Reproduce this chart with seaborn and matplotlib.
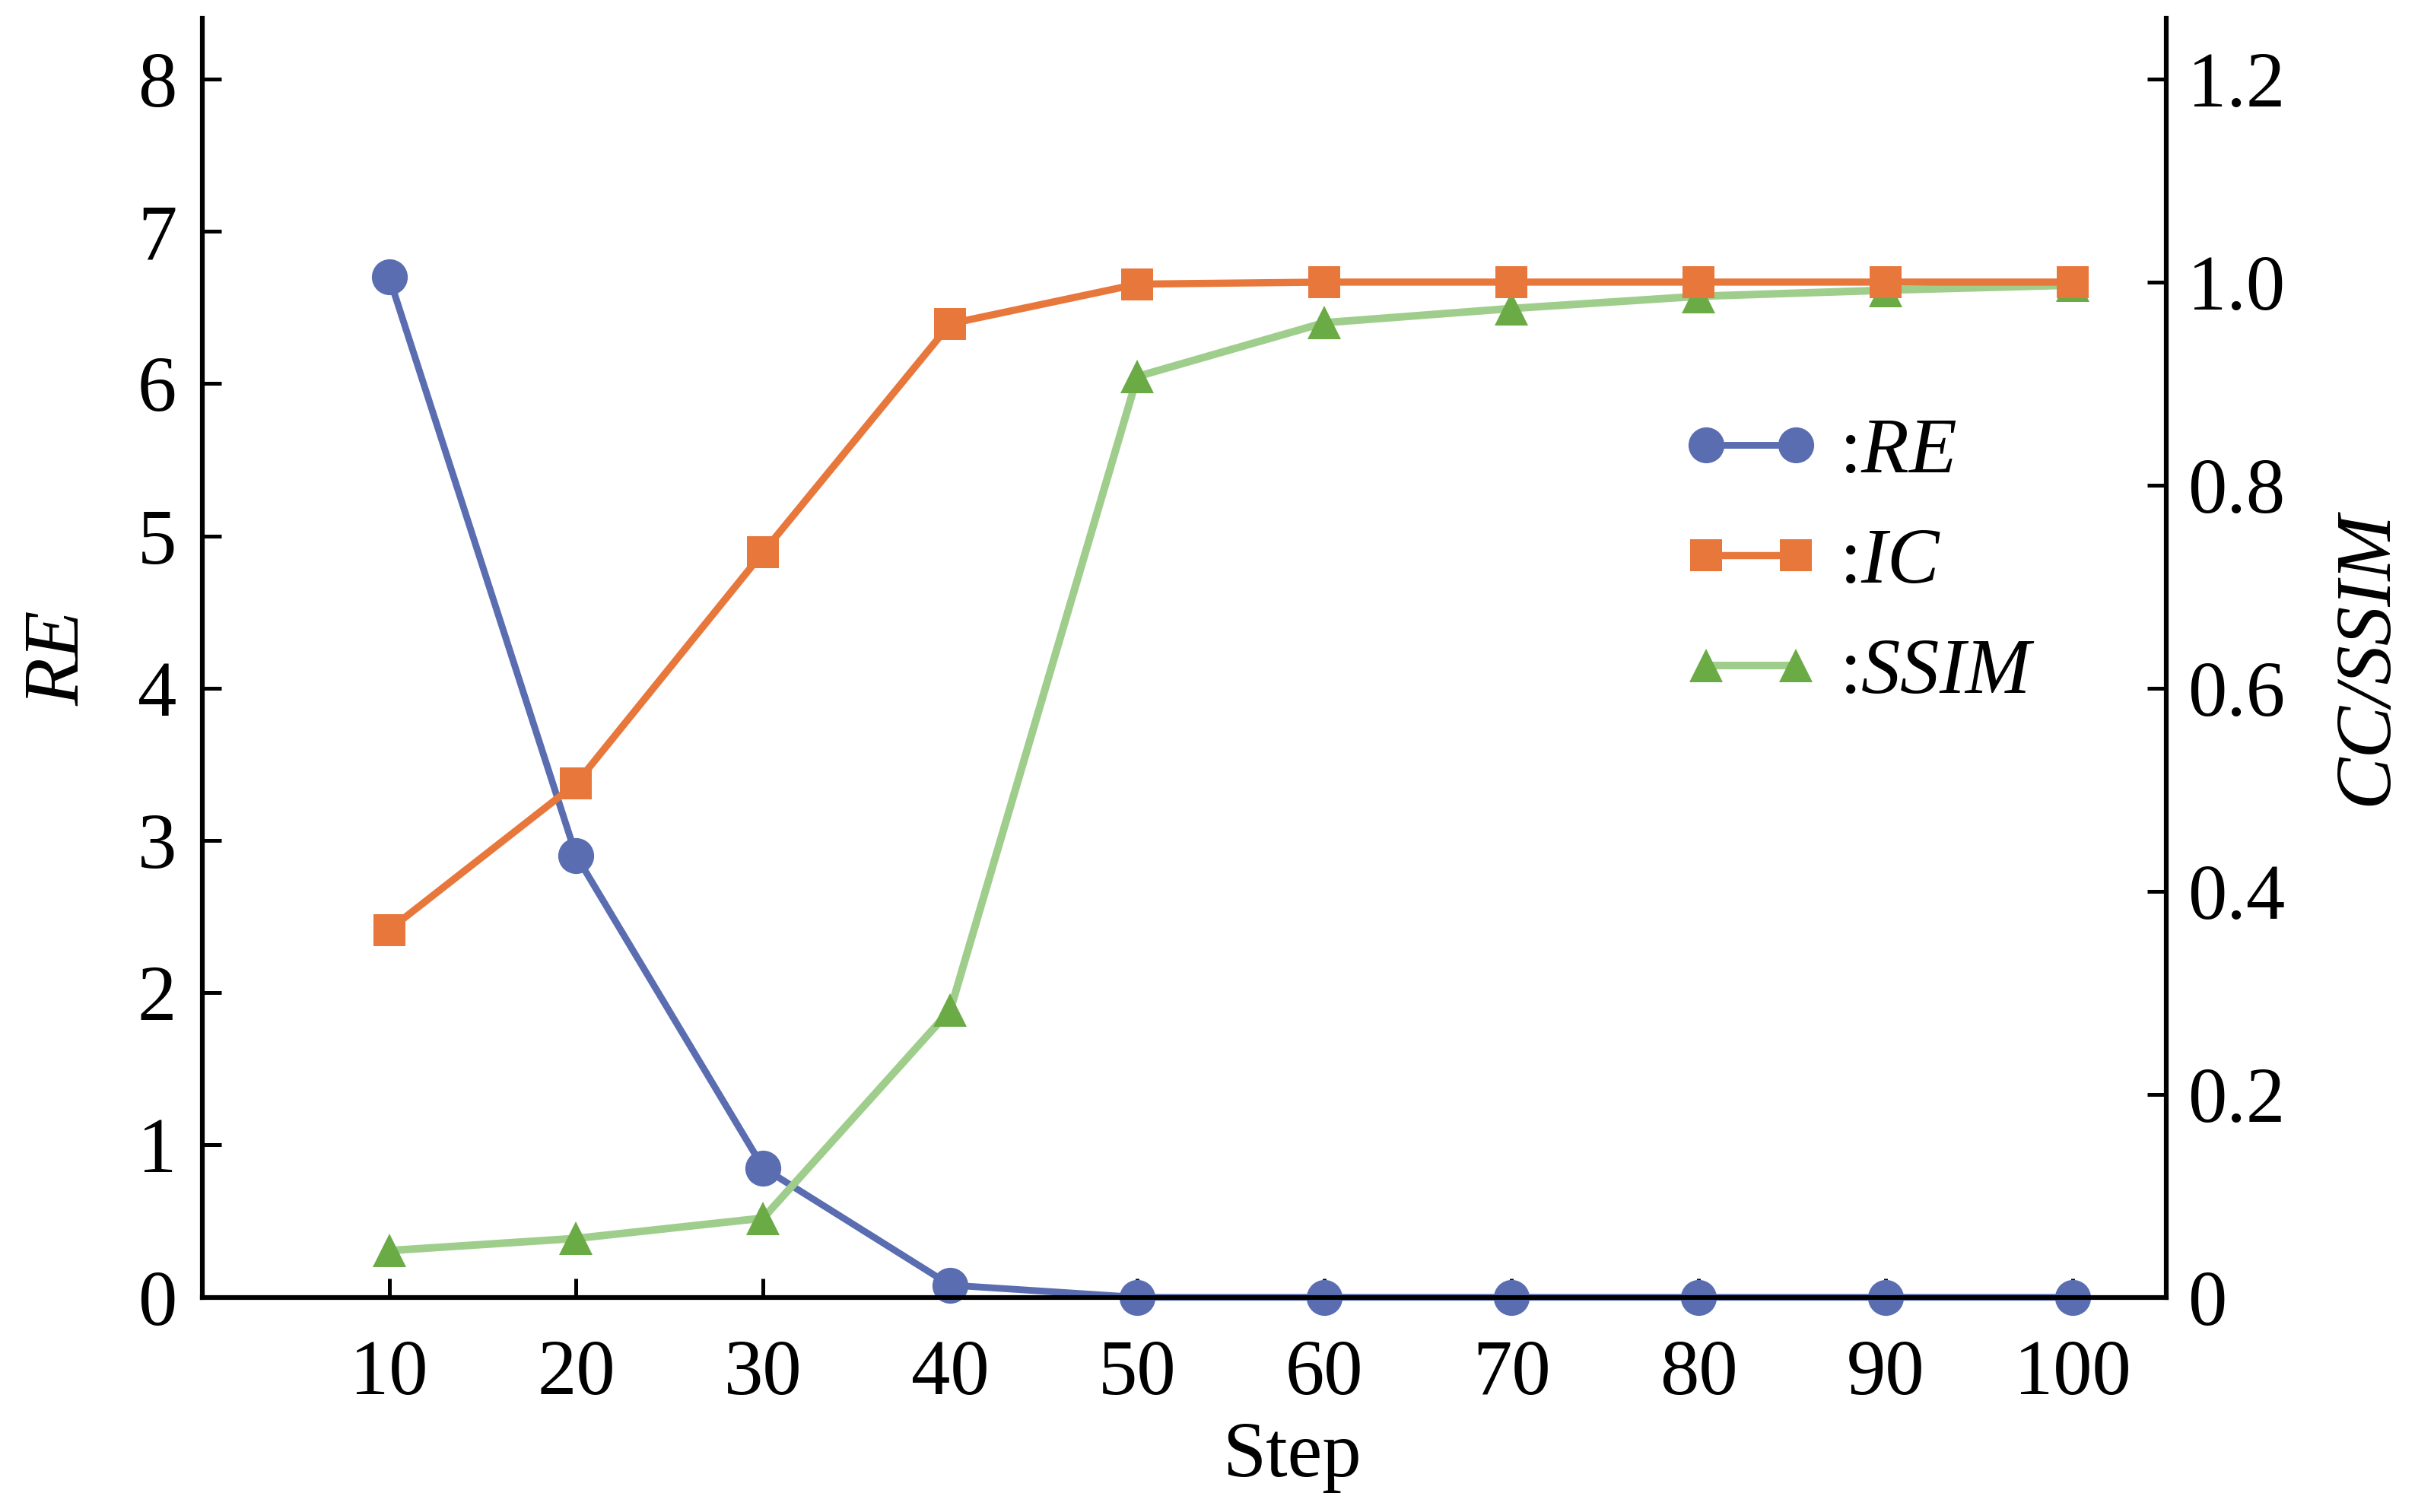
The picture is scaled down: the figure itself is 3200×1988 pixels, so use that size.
import matplotlib
matplotlib.use("Agg")
import matplotlib.pyplot as plt
import pandas as pd
import seaborn as sns

steps = [10, 20, 30, 40, 50, 60, 70, 80, 90, 100]
re_vals = [6.7, 2.9, 0.85, 0.08, 0.0, 0.0, 0.0, 0.0, 0.0, 0.0]
ic_vals = [0.362, 0.506, 0.734, 0.959, 0.998, 1.0, 1.0, 1.0, 1.0, 1.0]
ssim_vals = [0.046, 0.058, 0.078, 0.283, 0.907, 0.960, 0.974, 0.986, 0.992, 0.997]

left_ticks = [0, 1, 2, 3, 4, 5, 6, 7, 8]
right_ticks = [0, 0.2, 0.4, 0.6, 0.8, 1.0, 1.2]
right_labels = ["0", "0.2", "0.4", "0.6", "0.8", "1.0", "1.2"]

df = pd.DataFrame({"step": steps, "RE": re_vals, "IC": ic_vals, "SSIM": ssim_vals})

sns.set_style("ticks")
plt.rcParams["font.family"] = ["Liberation Serif", "DejaVu Serif"]
plt.rcParams["mathtext.fontset"] = "custom"
plt.rcParams["mathtext.rm"] = "Liberation Serif"
plt.rcParams["mathtext.it"] = "Liberation Serif:italic"
plt.rcParams["text.color"] = "black"
plt.rcParams["axes.labelcolor"] = "black"
plt.rcParams["xtick.color"] = "black"
plt.rcParams["ytick.color"] = "black"

blue = "#5a6db1"
orange = "#e8773b"
green_line = "#9fcd8c"
green_mark = "#6aab45"
fs = 37

fig, ax = plt.subplots(figsize=(16, 9.94), dpi=200)
fig.subplots_adjust(left=0.083, right=0.89, bottom=0.142, top=0.988)
ax2 = ax.twinx()

sns.lineplot(data=df, x="step", y="RE", ax=ax, color=blue, linewidth=3.2,
             marker="o", markersize=17, markeredgewidth=0, label=r":$\mathit{RE}$",
             legend=False, clip_on=False, zorder=5)
sns.lineplot(data=df, x="step", y="IC", ax=ax2, color=orange, linewidth=3.4,
             marker="s", markersize=15, markeredgewidth=0, label=r":$\mathit{IC}$",
             legend=False, clip_on=False, zorder=5)
sns.lineplot(data=df, x="step", y="SSIM", ax=ax2, color=green_line, linewidth=3.6,
             marker="^", markersize=16, markeredgewidth=0, markerfacecolor=green_mark,
             label=r":$\mathit{SSIM}$", legend=False, clip_on=False, zorder=4)

ax.set_xlim(0, 105)
ax.set_ylim(0, 8.4)
ax2.set_ylim(0, 8.4 * 0.15)
ax.set_xticks(steps)
ax.set_yticks(left_ticks)
ax2.set_yticks(right_ticks)
ax2.set_yticklabels(right_labels)

for a in (ax, ax2):
    for s in a.spines.values():
        s.set_linewidth(2.2)
        s.set_color("black")
    a.spines["top"].set_visible(False)
ax.tick_params(axis="both", direction="in", length=9, width=1.8, labelsize=fs)
ax.tick_params(axis="x", pad=20)
ax.tick_params(axis="y", pad=12)
ax2.tick_params(axis="y", direction="in", length=9, width=1.8, labelsize=fs, pad=10)

ax.set_xlabel("Step", fontsize=fs)
ax.xaxis.set_label_coords(0.555, -0.097)
ax.set_ylabel("RE", fontsize=fs, style="italic", labelpad=20)
ax2.set_ylabel("CC/SSIM", fontsize=fs, style="italic", labelpad=22)

h1, l1 = ax.get_legend_handles_labels()
h2, l2 = ax2.get_legend_handles_labels()
ax2.legend(h1 + h2, l1 + l2, loc="upper left", bbox_to_anchor=(0.718, 0.743),
           frameon=False, fontsize=fs, numpoints=2, handlelength=1.75,
           handletextpad=0.25, labelspacing=0.5)

fig.savefig("out.png", dpi=200)
